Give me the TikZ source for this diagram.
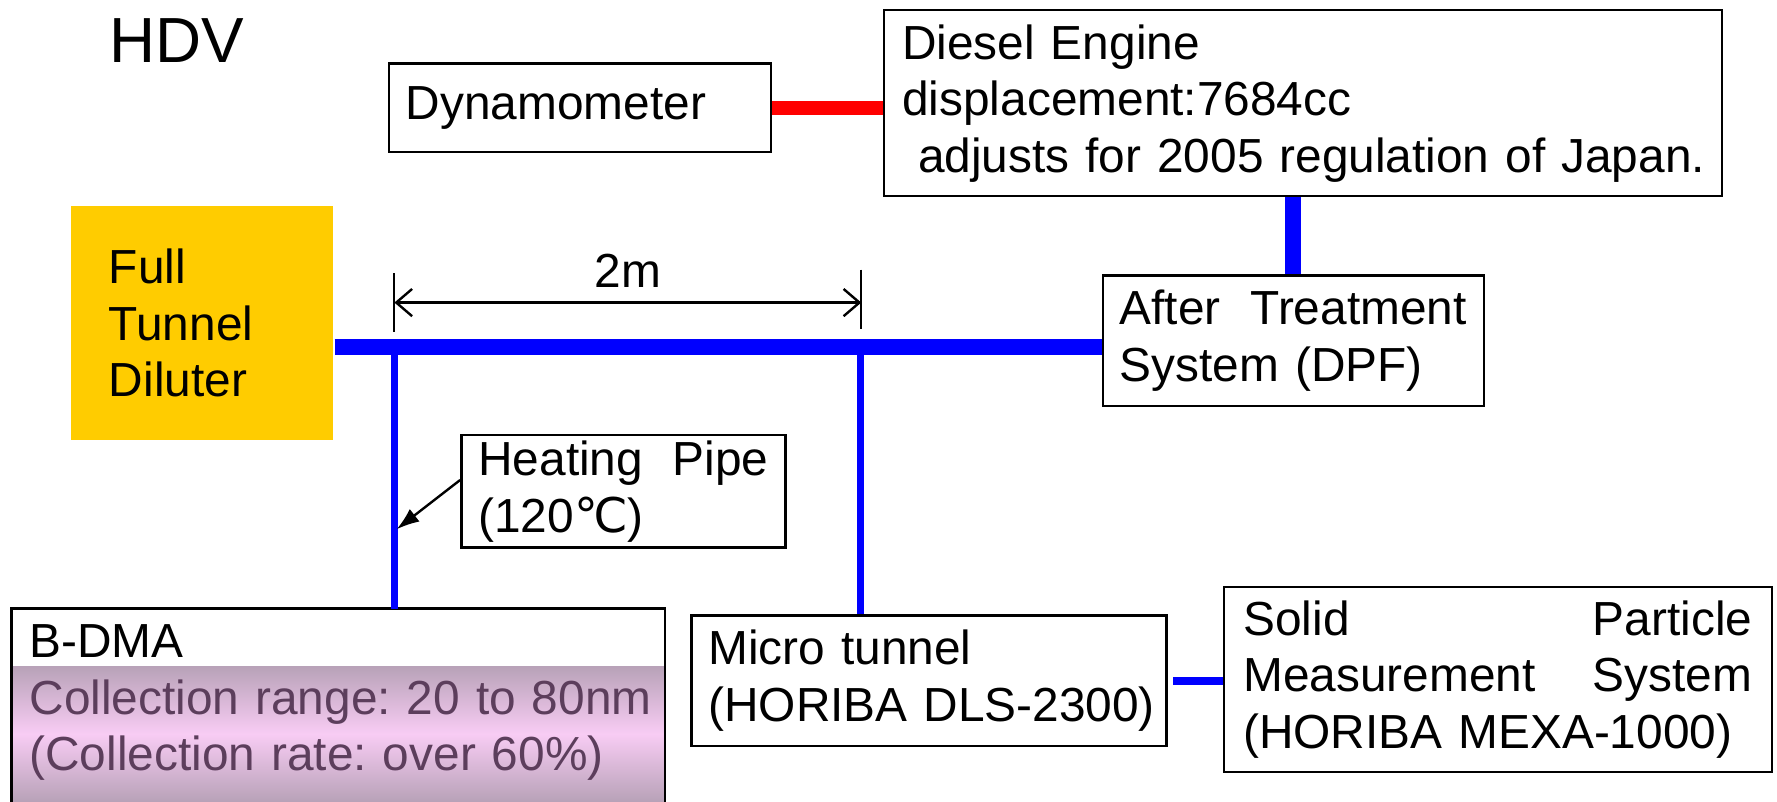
\documentclass[tikz,border=0pt]{standalone}
\usepackage{fontspec}
\setmainfont{Liberation Sans}
\newfontfamily\symbfont{DejaVu Sans}
\usepackage{xcolor}
\usetikzlibrary{arrows.meta}
\definecolor{pipeblue}{RGB}{0,0,255}
\definecolor{shaftred}{RGB}{255,0,0}
\definecolor{dilutergold}{RGB}{255,204,0}
\definecolor{dmagrey}{RGB}{184,162,184}
\definecolor{dmapink}{RGB}{248,204,244}
\definecolor{dmatext}{RGB}{92,62,92}
\newcommand{\boxfont}{\fontsize{12pt}{14.2pt}\selectfont}
\frenchspacing

\begin{document}
\begin{tikzpicture}[x=0.01cm,y=-0.01cm,
  unitbox/.style={draw,line width=0.6pt,fill=white,anchor=north west,inner xsep=0.15cm,inner ysep=0pt,align=left,font=\boxfont},
  pipe/.style={pipeblue,line width=0.14cm},
  thinpipe/.style={pipeblue,line width=0.06cm},
  shaft/.style={shaftred,line width=0.12cm},
  barb/.tip={Straight Barb[length=0.14cm,width=0.24cm]}]
\path [fill=white,use as bounding box] (0,0) rectangle (1568,707);
% title
\node (hdv) at (156,36) [font=\fontsize{16pt}{18pt}\selectfont] {HDV};
% engine side
\node (dyn) at (342,55) [unitbox,text width=3.07cm,minimum height=0.78cm] {Dynamometer};
\node (diesel) at (779,8) [unitbox,inner xsep=0.16cm,text width=7.07cm,minimum height=1.64cm] {\mbox{Diesel Engine}\\\mbox{displacement:7684cc}\\\mbox{\ adjusts for 2005 regulation of Japan.}};
\node (after) at (972,242) [unitbox,text width=3.06cm,minimum height=1.15cm] {After\hfill Treatment\\System (DPF)};
\node (ftd) at (62,181) [unitbox,draw=none,fill=dilutergold,inner xsep=0.33cm,text width=1.65cm,minimum height=2.06cm] {Full\\Tunnel\\Diluter};
% sampling side
\node (heat) at (406,383) [unitbox,text width=2.56cm,minimum height=0.99cm] {Heating\hfill Pipe\\(120{\symbfont ℃})};
\node (micro) at (609,542) [unitbox,text width=3.89cm,minimum height=1.15cm] {\mbox{Micro tunnel}\\\mbox{(HORIBA DLS-2300)}};
\node (solid) at (1079,517) [unitbox,inner xsep=0.17cm,text width=4.49cm,minimum height=1.63cm] {Solid\hfill Particle\\Measurement\hfill System\\(HORIBA MEXA-1000)};
\shade [top color=dmagrey,bottom color=dmagrey,middle color=dmapink] (10,588) rectangle (587,707);
\node (dma) at (10,537) [unitbox,fill=none,draw=none,inner ysep=0.13cm,text width=5.47cm] {B-DMA\\\mbox{\textcolor{dmatext}{Collection range: 20 to 80nm}}\\\mbox{\textcolor{dmatext}{(Collection rate: over 60\%)}}};
\draw [line width=0.6pt] (dma.north west) rectangle (587,730);
% pipes
\coordinate (tap1) at (348,306);
\coordinate (tap2) at (759,306);
\draw [shaft] (dyn.east) -- (dyn.east -| diesel.west);
\draw [pipe] (after.north) -- (after.north |- diesel.south);
\draw [pipe] (ftd.east |- tap1) -- (after.west |- tap1);
\draw [thinpipe] (tap1) -- (tap1 |- dma.north);
\draw [thinpipe] (tap2) -- (tap2 |- micro.north);
\draw [pipeblue,line width=0.07cm] ([xshift=0.05cm]micro.east) -- (solid.west |- micro.east);
% 2m
\coordinate (dimL) at (348,267);
\coordinate (dimR) at (760,267);
\draw [line width=0.5pt] ([yshift=0.26cm]dimL) -- ([yshift=-0.26cm]dimL);
\draw [line width=0.5pt] ([yshift=0.29cm]dimR) -- ([yshift=-0.23cm]dimR);
\draw [line width=0.6pt,barb-barb] (dimL) -- (dimR) node (dimlabel) [midway,above=0.12cm,inner sep=0pt,font=\boxfont] {2m};
% heating pipe pointer
\coordinate (heatend) at (350,467);
\draw [line width=0.6pt,-{Latex[length=0.2cm,width=0.14cm]}] ([yshift=0.1cm]heat.west) -- (heatend);
\end{tikzpicture}
\end{document}
